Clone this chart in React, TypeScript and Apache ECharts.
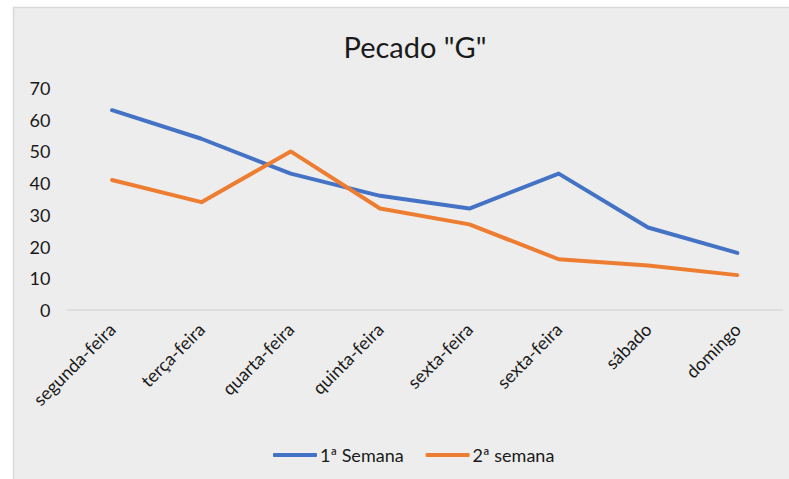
import React, { useEffect, useRef } from "react";
import * as echarts from "echarts";

const title = 'Pecado "G"';
const categories = ["segunda-feira", "terça-feira", "quarta-feira", "quinta-feira", "sexta-feira", "sexta-feira", "sábado", "domingo"];
const seriesNames = ["1ª Semana", "2ª semana"];
const semana1 = [63, 54, 43, 36, 32, 43, 26, 18];
const semana2 = [41, 34, 50, 32, 27, 16, 14, 11];
const yTicks = { min: 0, max: 70, interval: 10 };

const FONT = "Lato, 'Noto Sans', sans-serif";

export default function App() {
  const ref = useRef<HTMLDivElement>(null);
  useEffect(() => {
    if (!ref.current) return;
    const chart = echarts.init(ref.current, null, { renderer: "svg" });
    chart.setOption({
      animation: false,
      backgroundColor: "#ffffff",
      graphic: [
        {
          type: "rect",
          z: -10,
          silent: true,
          shape: { x: 13.5, y: 7.5, width: 800, height: 500 },
          style: { fill: "#ededed", stroke: "#d9d9d9", lineWidth: 1.5 },
        },
      ],
      title: {
        text: title,
        left: 410,
        textAlign: "center",
        top: 27,
        textStyle: { fontFamily: FONT, fontSize: 29, fontWeight: "normal", color: "#1a1a1a" },
      },
      legend: {
        data: seriesNames,
        left: 268,
        top: 441,
        itemWidth: 44,
        itemHeight: 4,
        itemGap: 22,
        icon: "roundRect",
        textStyle: { fontFamily: FONT, fontSize: 18, color: "#1a1a1a", padding: [0, 0, 0, -2] },
      },
      grid: { left: 67.4, right: 7, top: 88, bottom: 169, containLabel: false },
      xAxis: {
        type: "category",
        data: categories,
        boundaryGap: true,
        axisLine: { lineStyle: { color: "#d9d9d9", width: 1.5 } },
        axisTick: { show: false },
        axisLabel: { rotate: 45, interval: 0, margin: 16, fontFamily: FONT, fontSize: 18, color: "#1a1a1a" },
      },
      yAxis: {
        type: "value",
        min: yTicks.min,
        max: yTicks.max,
        interval: yTicks.interval,
        axisLine: { show: false },
        axisTick: { show: false },
        splitLine: { show: false },
        axisLabel: { margin: 17, fontFamily: FONT, fontSize: 18, color: "#1a1a1a" },
      },
      series: [
        {
          name: seriesNames[0],
          type: "line",
          data: semana1,
          symbol: "none",
          color: "#4472C4",
          lineStyle: { width: 4, cap: "round", join: "round", color: "#4472C4" },
        },
        {
          name: seriesNames[1],
          type: "line",
          data: semana2,
          symbol: "none",
          color: "#ED7D31",
          lineStyle: { width: 4, cap: "round", join: "round", color: "#ED7D31" },
        },
      ],
    });
    return () => chart.dispose();
  }, []);
  return (
    <div style={{ position: "fixed", left: 0, top: 0, width: 789, height: 479, overflow: "hidden" }}>
      <div ref={ref} style={{ width: 789, height: 479 }} />
    </div>
  );
}
